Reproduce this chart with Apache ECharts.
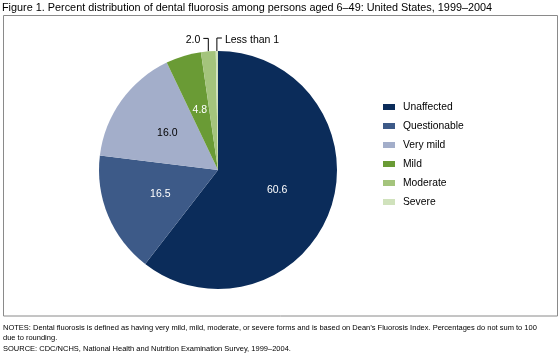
<!DOCTYPE html>
<html>
<head>
<meta charset="utf-8">
<script src="https://cdn.jsdelivr.net/npm/echarts@6/dist/echarts.min.js"></script>
<style>
  html, body { margin: 0; padding: 0; background: #fff; }
  #main { width: 560px; height: 354px; }
</style>
</head>
<body>
<div id="main"></div>
<script>
// data
var categories = ['Unaffected', 'Questionable', 'Very mild', 'Mild', 'Moderate', 'Severe'];
var percents = [60.6, 16.5, 16.0, 4.8, 2.0, 0.3];
var labelTexts = ['60.6', '16.5', '16.0', '4.8', '2.0', 'Less than 1'];
var colors = ['#0b2c5a', '#3d5a88', '#a3aeca', '#6a9b35', '#a4c47c', '#d0e2bc'];
var labelColors = ['#fff', '#fff', '#000', '#fff', '#000', '#000'];

var FONT = 'Liberation Sans, Arial, sans-serif';

var chart = echarts.init(document.getElementById('main'));

// slices with their labels
var pieData = categories.map(function (name, i) {
    var outside = i >= 4;
    return {
        name: name,
        value: percents[i],
        itemStyle: { color: colors[i] },
        label: {
            position: outside ? 'outside' : 'inside',
            formatter: labelTexts[i],
            color: labelColors[i]
        },
        labelLine: { show: outside }
    };
});

var option = {
    animation: false,
    textStyle: { fontFamily: FONT },
    title: [
        {
            text: 'Figure 1. Percent distribution of dental fluorosis among persons aged 6\u201349: United States, 1999\u20132004',
            left: 2, top: 2, padding: 0,
            textStyle: { fontSize: 10.85, fontWeight: 'normal', color: '#000', fontFamily: FONT }
        },
        {
            text: 'NOTES: Dental fluorosis is defined as having very mild, mild, moderate, or severe forms and is based on Dean\u2019s Fluorosis Index. Percentages do not sum to 100\ndue to rounding.',
            left: 3, top: 322.5, padding: 0,
            textStyle: { fontSize: 7.5, fontWeight: 'normal', color: '#000', lineHeight: 10, fontFamily: FONT }
        },
        {
            text: 'SOURCE: CDC/NCHS, National Health and Nutrition Examination Survey, 1999\u20132004.',
            left: 3, top: 343.5, padding: 0,
            textStyle: { fontSize: 7.5, fontWeight: 'normal', color: '#000', lineHeight: 10, fontFamily: FONT }
        }
    ],
    graphic: [
        {
            type: 'rect',
            shape: { x: 3.5, y: 15.5, width: 554, height: 300.5 },
            style: { fill: 'none', stroke: '#8a8a8a', lineWidth: 1 },
            silent: true
        }
    ],
    legend: {
        orient: 'vertical',
        left: 378, top: 97,
        itemWidth: 12, itemHeight: 6,
        itemGap: 9,
        icon: 'rect',
        data: categories,
        textStyle: { fontSize: 10.3, color: '#000', fontFamily: FONT, padding: [0, 0, 0, 3] }
    },
    series: [
        {
            type: 'pie',
            center: [218, 170],
            radius: 119,
            startAngle: 90,
            clockwise: true,
            data: pieData,
            label: { fontSize: 10.5, fontFamily: FONT },
            labelLine: { lineStyle: { color: '#000', width: 1 }, length: 13, length2: 5 },
            // bracket callouts for the two thin slices
            labelLayout: function (p) {
                if (p.dataIndex < 4 || !p.labelLinePoints) return {};
                var e = p.labelLinePoints[0];
                var top = e[1] - 13;
                var dir = p.dataIndex === 5 ? 1 : -1;
                return {
                    x: e[0] + dir * 8,
                    y: top + 2,
                    align: dir > 0 ? 'left' : 'right',
                    verticalAlign: 'middle',
                    labelLinePoints: [e, [e[0], top], [e[0] + dir * 5, top]]
                };
            },
            emphasis: { disabled: true }
        }
    ]
};

chart.setOption(option);
</script>
</body>
</html>
